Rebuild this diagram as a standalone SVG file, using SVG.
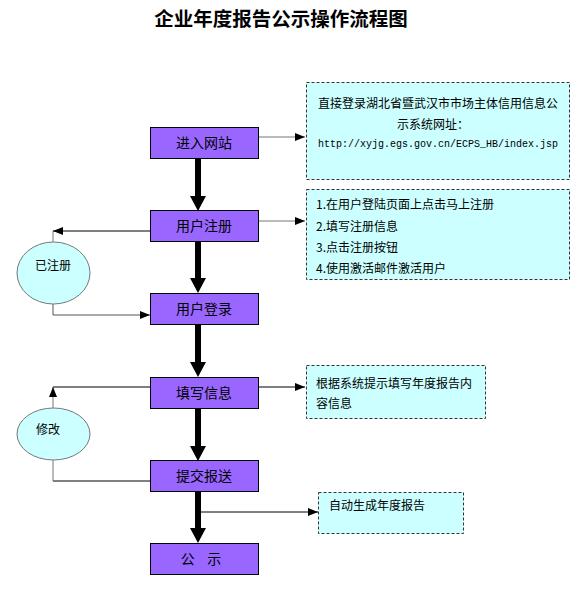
<svg xmlns="http://www.w3.org/2000/svg" width="584" height="599" viewBox="0 0 584 599">
<defs>
<style>
.t{font-family:"Noto Sans CJK SC","Liberation Sans",sans-serif;fill:#000}
.box rect{fill:#9966FF;stroke:#000;stroke-width:1}
.box text{font-size:14px}
.note rect{fill:#CCFFFF;stroke:#333;stroke-width:1;stroke-dasharray:3 2}
.note text{font-size:12px}
.note text.url{font-family:"Liberation Mono",monospace;font-size:10px}
.ell ellipse{fill:#CCFFFF;stroke:#777;stroke-width:1}
.ell text{font-size:12px}
.thin{fill:none;stroke-width:1}
.shaft{stroke:#000;stroke-width:6}
</style>
<marker id="ah" markerWidth="10" markerHeight="8" refX="10" refY="4" orient="auto" markerUnits="userSpaceOnUse">
<path d="M0,0 L10,4 L0,8 Z" fill="#000"/>
</marker>
</defs>
<rect width="584" height="599" fill="#fff"/>
<text class="t" x="281" y="26" font-size="19.5" font-weight="bold" text-anchor="middle">企业年度报告公示操作流程图</text>

<g id="connectors">
<line class="shaft" x1="198" y1="158" x2="198" y2="197"/>
<polygon points="190,196 206,196 198,211"/>
<line class="shaft" x1="198" y1="241" x2="198" y2="279"/>
<polygon points="190,278 206,278 198,293"/>
<line class="shaft" x1="198" y1="325" x2="198" y2="363"/>
<polygon points="190,362 206,362 198,377"/>
<line class="shaft" x1="198" y1="408" x2="198" y2="447"/>
<polygon points="190,446 206,446 198,461"/>
<line class="shaft" x1="198" y1="491" x2="198" y2="529"/>
<polygon points="190,528 206,528 198,543"/>

<line class="thin" stroke="#777" x1="258" y1="137" x2="305" y2="137" marker-end="url(#ah)"/>
<line class="thin" stroke="#777" x1="258" y1="221" x2="305" y2="221" marker-end="url(#ah)"/>
<line class="thin" stroke="#000" x1="258" y1="387" x2="305" y2="387" marker-end="url(#ah)"/>
<line class="thin" stroke="#000" x1="198" y1="512" x2="318" y2="512" marker-end="url(#ah)"/>

<line class="thin" stroke="#777" x1="53" y1="242" x2="53" y2="231"/>
<line class="thin" stroke="#000" x1="150" y1="231" x2="53" y2="231" marker-end="url(#ah)"/>
<polyline class="thin" stroke="#555" points="53,304 53,315 150,315" marker-end="url(#ah)"/>

<polyline class="thin" stroke="#000" points="150,481 53,481"/>
<line class="thin" stroke="#777" x1="53" y1="481" x2="53" y2="460"/>
<line class="thin" stroke="#777" x1="53" y1="408" x2="53" y2="387" marker-end="url(#ah)"/>
<line class="thin" stroke="#000" x1="150" y1="387" x2="53" y2="387"/>
</g>

<g id="n1" class="box"><rect x="150.5" y="127.5" width="108" height="31"/><text class="t" x="204" y="148" text-anchor="middle">进入网站</text></g>
<g id="n2" class="box"><rect x="150.5" y="210.5" width="108" height="31"/><text class="t" x="204" y="231" text-anchor="middle">用户注册</text></g>
<g id="n3" class="box"><rect x="150.5" y="293.5" width="108" height="31"/><text class="t" x="204" y="314" text-anchor="middle">用户登录</text></g>
<g id="n4" class="box"><rect x="150.5" y="377.5" width="108" height="31"/><text class="t" x="204" y="398" text-anchor="middle">填写信息</text></g>
<g id="n5" class="box"><rect x="150.5" y="460.5" width="108" height="31"/><text class="t" x="204" y="481" text-anchor="middle">提交报送</text></g>
<g id="n6" class="box"><rect x="150.5" y="543.5" width="108" height="31"/><text class="t" x="201" y="564" text-anchor="middle" xml:space="preserve">公    示</text></g>

<g id="e1" class="ell"><ellipse cx="53.5" cy="273" rx="36.5" ry="31"/><text class="t" x="53" y="270" text-anchor="middle">已注册</text></g>
<g id="e2" class="ell"><ellipse cx="53.5" cy="434" rx="36.5" ry="26"/><text class="t" x="36" y="434">修改</text></g>

<g id="a" class="note"><rect x="306.5" y="82.5" width="263" height="97"/>
<text class="t" x="438" y="108" text-anchor="middle">直接登录湖北省暨武汉市市场主体信用信息公</text>
<text class="t" x="433" y="129" text-anchor="middle">示系统网址：</text>
<text class="url" x="438" y="147" text-anchor="middle">http://xyjg.egs.gov.cn/ECPS_HB/index.jsp</text>
</g>
<g id="b" class="note"><rect x="306.5" y="189.5" width="263" height="90"/>
<text class="t" x="316" y="209">1.在用户登陆页面上点击马上注册</text>
<text class="t" x="316" y="231">2.填写注册信息</text>
<text class="t" x="316" y="252">3.点击注册按钮</text>
<text class="t" x="316" y="273">4.使用激活邮件激活用户</text>
</g>
<g id="c" class="note"><rect x="306.5" y="365.5" width="179" height="53"/>
<text class="t" x="316" y="388">根据系统提示填写年度报告内</text>
<text class="t" x="316" y="408">容信息</text>
</g>
<g id="d" class="note"><rect x="318.5" y="492.5" width="145" height="41"/>
<text class="t" x="329" y="510">自动生成年度报告</text>
</g>
</svg>
